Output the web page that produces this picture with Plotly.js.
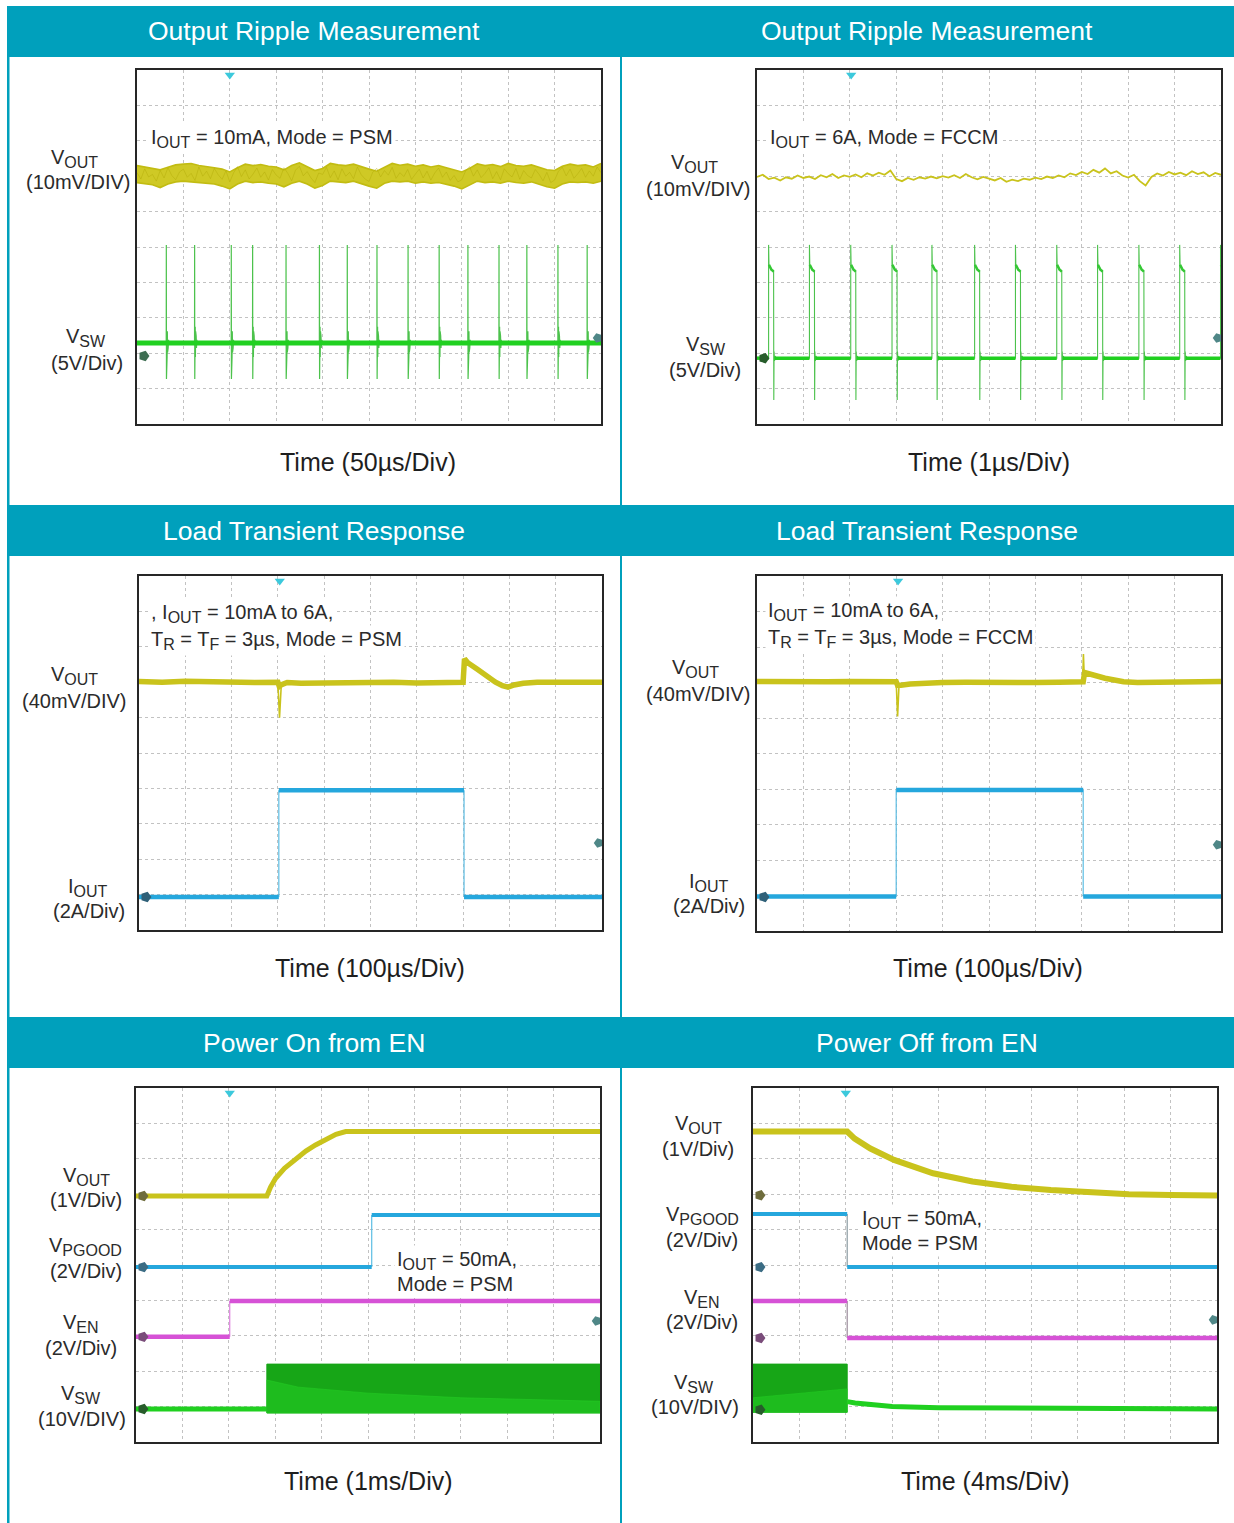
<!DOCTYPE html>
<html><head><meta charset="utf-8">
<script src="https://cdn.plot.ly/plotly-3.0.1.min.js"></script>
<style>html,body{margin:0;padding:0;background:#fff;}#chart{width:1234px;height:1523px;}</style>
</head><body><div id="chart"></div>
<script>
// ================= DATA (in scope divisions) =================
const panelTitles = ['Output Ripple Measurement','Output Ripple Measurement','Load Transient Response','Load Transient Response','Power On from EN','Power Off from EN'];
const timeLabels = ['Time (50µs/Div)','Time (1µs/Div)','Time (100µs/Div)','Time (100µs/Div)','Time (1ms/Div)','Time (4ms/Div)'];
const channelLabels = [
  ['V<sub>OUT</sub>','(10mV/DIV)','V<sub>SW</sub>','(5V/Div)'],
  ['V<sub>OUT</sub>','(10mV/DIV)','V<sub>SW</sub>','(5V/Div)'],
  ['V<sub>OUT</sub>','(40mV/DIV)','I<sub>OUT</sub>','(2A/Div)'],
  ['V<sub>OUT</sub>','(40mV/DIV)','I<sub>OUT</sub>','(2A/Div)'],
  ['V<sub>OUT</sub>','(1V/Div)','V<sub>PGOOD</sub>','(2V/Div)','V<sub>EN</sub>','(2V/Div)','V<sub>SW</sub>','(10V/DIV)'],
  ['V<sub>OUT</sub>','(1V/Div)','V<sub>PGOOD</sub>','(2V/Div)','V<sub>EN</sub>','(2V/Div)','V<sub>SW</sub>','(10V/DIV)']
];
const noteLines = [
  ['I<sub>OUT</sub> = 10mA, Mode = PSM'],
  ['I<sub>OUT</sub> = 6A, Mode = FCCM'],
  [', I<sub>OUT</sub> = 10mA to 6A,','T<sub>R</sub> = T<sub>F</sub> = 3µs, Mode = PSM'],
  ['I<sub>OUT</sub> = 10mA to 6A,','T<sub>R</sub> = T<sub>F</sub> = 3µs, Mode = FCCM'],
  ['I<sub>OUT</sub> = 50mA,','Mode = PSM'],
  ['I<sub>OUT</sub> = 50mA,','Mode = PSM']
];

// Panel 1 : VOUT ripple band edges (sampled every 1/6 div) and VSW spikes
const p1VoutUpper = [7.30,7.26,7.22,7.18,7.25,7.32, 7.34,7.36,7.30,7.28,7.24,7.20, 7.12,7.24,7.34,7.30,7.33,7.28,
  7.26,7.18,7.30,7.38,7.28,7.16, 7.22,7.36,7.32,7.30,7.34,7.26, 7.20,7.14,7.26,7.36,7.31,7.34,
  7.28,7.32,7.26,7.30,7.24,7.18, 7.12,7.22,7.35,7.30,7.33,7.27, 7.36,7.30,7.28,7.32,7.24,7.18,
  7.16,7.28,7.34,7.30,7.32,7.26, 7.36];
const p1VoutLower = [6.82,6.80,6.76,6.68,6.78,6.84, 6.86,6.84,6.82,6.80,6.78,6.72, 6.64,6.78,6.86,6.82,6.84,6.80,
  6.78,6.70,6.80,6.86,6.78,6.66, 6.74,6.86,6.84,6.82,6.86,6.78, 6.72,6.66,6.80,6.86,6.84,6.86,
  6.80,6.84,6.80,6.82,6.78,6.72, 6.64,6.76,6.86,6.82,6.84,6.80, 6.86,6.82,6.80,6.84,6.76,6.70,
  6.66,6.78,6.84,6.82,6.84,6.80, 6.86];
// noise texture inside the band (sampled every 1/12 div)
const p1VoutNoise = [7.10,6.92,7.21,6.98,7.05,6.86,7.16,6.95,7.24,7.02,6.90,7.12,
  7.20,6.97,7.08,6.88,7.26,7.00,7.14,6.93,7.22,7.04,6.91,7.15,
  6.84,7.10,7.27,6.99,7.18,6.92,7.06,7.23,6.97,7.12,6.89,7.19,
  7.03,6.94,7.24,7.08,6.87,7.17,7.28,7.01,7.13,6.95,6.82,7.09,
  7.05,7.25,6.96,7.15,6.90,7.21,7.00,7.11,6.93,7.26,7.04,6.92,
  6.85,7.12,7.22,6.98,7.16,7.03,7.25,6.94,7.10,6.99,7.19,6.91,
  7.06,7.20,6.95,7.14,6.89,7.09,7.23,6.97,7.12,6.88,7.02,6.84,
  6.90,7.15,7.27,7.00,7.18,6.96,7.08,7.24,6.93,7.13,6.90,7.21,
  7.07,6.98,7.22,6.91,7.16,7.02,6.95,7.19,7.05,6.87,7.11,6.82,
  6.89,7.14,7.25,7.01,7.20,6.94,7.07,7.22,6.97,7.15,7.00,7.26, 7.10];
const p1SwBase = 2.29;
const p1SpikeTimes = [0.63,1.24,2.03,2.49,3.21,3.93,4.53,5.17,5.84,6.51,7.13,7.80,8.40,9.07,9.70];
const p1SpikeDx = [0,0.002,0.005,0.008,0.011,0.015,0.019,0.024,0.029,0.035,0.042,0.050,0.060,0.072];
const p1SpikeDy = [0,2.77,-1.02,0.60,-0.54,0.46,-0.40,0.33,-0.27,0.20,-0.14,0.09,-0.05,0];

// Panel 2 : VOUT (sampled every 1/8 div) and VSW pulses
const p2Vout = [6.98,7.04,6.92,6.96,6.88,6.97,6.93,7.02,6.95,
  6.99,6.92,7.03,6.97,7.06,6.95,7.02,6.98,
  7.05,6.97,7.08,7.02,7.10,7.04,7.16,6.92,
  6.86,6.95,6.90,6.97,6.93,6.99,6.94,7.00,
  6.96,7.03,6.95,7.06,6.97,6.91,6.98,6.93,
  6.88,6.95,6.84,6.90,6.86,6.93,6.90,6.96,
  6.92,6.99,6.95,7.02,6.97,7.08,7.03,7.12,
  7.06,7.18,7.10,7.22,7.08,7.14,7.02,6.96,
  7.04,6.86,6.74,6.98,7.08,7.02,7.12,7.05,
  7.10,7.03,7.14,7.06,7.11,7.00,7.09,7.04];
const p2SwLow = 1.86;
const p2PulseTimes = [0.25,1.13,2.02,2.91,3.77,4.69,5.57,6.46,7.34,8.23,9.11,9.99];
const p2PulseDx = [0,0,0.008,0.030,0.060,0.090,0.108,0.112,0.118,0.128,0.142,0.160];
const p2PulseY  = [1.86,5.06,4.50,4.42,4.36,4.33,4.30,0.68,2.05,1.78,1.92,1.86];

// Panel 3 : load transient PSM
const p3VoutX = [0,0.5,1,1.5,2,2.5,3.0,3.03,3.08,3.2,3.5,4,4.5,5,5.5,6,6.5,7.0,7.03,7.1,7.3,7.5,7.7,7.85,7.97,8.1,8.3,8.6,9,9.5,10];
const p3VoutY = [7.02,7.00,7.03,7.01,7.02,6.99,7.00,6.88,6.93,6.99,6.97,6.98,6.97,6.99,7.00,6.98,7.00,7.00,7.66,7.55,7.37,7.18,7.00,6.90,6.86,6.92,6.97,7.00,6.99,7.01,7.00];
const p3DipX = [3.0,3.035,3.07];
const p3DipY = [7.0,6.0,6.85];
const p3IoutEdges = [3.02,7.02];
const p3IoutLevels = [0.93,3.95,0.93];

// Panel 4 : load transient FCCM
const p4VoutX = [0,0.5,1,1.5,2,2.5,3.0,3.03,3.1,3.3,3.6,4,4.5,5,5.5,6,6.5,7.03,7.06,7.15,7.3,7.5,7.7,7.9,8.2,8.6,9,9.5,10];
const p4VoutY = [7.03,7.02,7.04,7.02,7.03,7.01,7.02,6.92,6.92,6.96,6.99,7.00,7.01,7.00,7.01,7.00,7.01,7.02,7.28,7.24,7.18,7.12,7.07,7.02,7.00,7.01,7.02,7.01,7.03];
const p4DipX = [3.0,3.03,3.06];
const p4DipY = [7.02,6.04,6.9];
const p4PeakX = [7.02,7.035,7.05];
const p4PeakY = [7.02,7.8,7.25];
const p4IoutEdges = [3.0,7.03];
const p4IoutLevels = [0.97,3.97,0.97];

// Panel 5 : power on
const p5VoutX = [0,2.82,2.9,3.01,3.2,3.44,3.66,3.87,4.1,4.31,4.52,5,6,7,8,9,10];
const p5VoutY = [6.95,6.95,7.2,7.45,7.73,8.01,8.22,8.39,8.56,8.69,8.77,8.77,8.76,8.77,8.76,8.77,8.77];
const p5PgoodEdges = [5.08];
const p5PgoodLevels = [4.94,6.41];
const p5EnEdges = [2.02];
const p5EnLevels = [2.97,3.98];
const p5SwLowX = [0,2.82];
const p5SwLow = 0.93;
const p5SwBurstX = [2.82,10];
const p5SwBurstTop = [2.2,2.2];
const p5SwBurstBottom = [0.82,0.82];
const p5SwBrightX = [2.82,3.5,5,7,10];
const p5SwBrightTop = [1.75,1.55,1.38,1.25,1.15];

// Panel 6 : power off
const p6VoutX = [0,2.03,2.19,2.53,3.04,3.88,4.73,5.57,6.42,7.26,8.1,9,10];
const p6VoutY = [8.77,8.77,8.57,8.29,7.97,7.59,7.36,7.21,7.12,7.05,7.00,6.98,6.96];
const p6PgoodEdges = [2.03];
const p6PgoodLevels = [6.44,4.94];
const p6EnEdges = [2.03];
const p6EnLevels = [3.98,2.94];
const p6SwBurstX = [0,2.03];
const p6SwBurstTop = [2.2,2.2];
const p6SwBurstBottom = [0.84,0.84];
const p6SwBrightX = [0,0.8,1.5,2.03];
const p6SwBrightTop = [1.25,1.35,1.45,1.5];
const p6SwTailX = [2.03,2.2,2.6,3.0,4.0,6.0,8.0,10];
const p6SwTailY = [1.14,1.10,1.05,1.00,0.97,0.95,0.94,0.93];

// scope markers
const triggerX = [2.0,2.03,3.04,3.04,2.02,2.0];
const rightMarkerY = [2.43,2.43,2.46,2.43,3.42,3.45];
const groundMarkerY = [[1.92],[1.86],[0.93],[0.96],[6.95,4.94,2.97,0.93],[6.97,4.94,2.94,0.91]];

// ================= STYLE / LAYOUT =================
const W = 1234, H = 1523;
const px = x => x / W, py = y => 1 - y / H;
const C = {vout:'#c9c31c', voutEdge:'#c2bc12', sw:'#20d020', swThin:'#4cc24c', blue:'#25a7dd', blueThin:'#5cbde3',
  mag:'#d652d6', magThin:'#dd7fdd', teal:'#00a0bc', text:'#2b2b2b'};
const boxes = [
  {l:137,r:601,t:70,b:424},{l:757,r:1221,t:70,b:424},
  {l:139,r:602,t:576,b:930},{l:757,r:1221,t:576,b:931},
  {l:136,r:600,t:1088,b:1442},{l:753,r:1217,t:1088,b:1442}];
const groundMarkerColors = [['#3e6e52'],['#275c2b'],['#2f6078'],['#2f6078'],
  ['#6e6c3c','#3b6c84','#7a4c7a','#275c2b'],['#6e6c3c','#3b6c84','#7a4c7a','#275c2b']];

const traces = [];
function add(n, x, y, opts){
  traces.push(Object.assign({type:'scatter', mode:'lines', x, y,
    xaxis:'x'+(n>1?n:''), yaxis:'y'+(n>1?n:''), hoverinfo:'skip', showlegend:false}, opts));
}
function steps(n, edges, levels, color, thick, thinColor){
  const X=[],Y=[],EX=[],EY=[]; const b=[0,...edges,10];
  levels.forEach((lv,i)=>{X.push(b[i],b[i+1],null); Y.push(lv,lv,null);});
  edges.forEach((e,i)=>{EX.push(e,e,null); EY.push(levels[i],levels[i+1],null);});
  add(n,EX,EY,{line:{color:thinColor,width:1.2}});
  add(n,X,Y,{line:{color:color,width:thick}});
}
function band(n, x, top, xb, bottom, fill){
  const X=[...x, ...xb.slice().reverse(), x[0]], Y=[...top, ...bottom.slice().reverse(), top[0]];
  add(n,X,Y,{fill:'toself', fillcolor:fill, line:{color:fill,width:1}});
}

// ---- Panel 1
const p1X = p1VoutUpper.map((_,i)=>i/6);
add(1,p1X,p1VoutUpper,{line:{color:C.voutEdge,width:1.6}});
add(1,p1X,p1VoutLower,{fill:'tonexty', fillcolor:'#cfc925', line:{color:C.voutEdge,width:1.6}});
add(1,p1VoutNoise.map((_,i)=>i/12),p1VoutNoise,{line:{color:'rgba(178,170,8,0.55)',width:0.8}});
(function(){
  const X=[0],Y=[p1SwBase];
  p1SpikeTimes.forEach(t=>p1SpikeDx.forEach((dx,k)=>{X.push(t+dx);Y.push(p1SwBase+p1SpikeDy[k]);}));
  X.push(10);Y.push(p1SwBase);
  add(1,X,Y,{line:{color:C.swThin,width:1.2}});
  add(1,[0,10],[p1SwBase,p1SwBase],{line:{color:C.sw,width:5}});
})();

// ---- Panel 2
add(2,p2Vout.map((_,i)=>i/8),p2Vout,{line:{color:C.vout,width:1.8}});
(function(){
  const X=[0],Y=[p2SwLow],LX=[0],LY=[p2SwLow],HX=[],HY=[];
  p2PulseTimes.forEach((t,i)=>{
    p2PulseDx.forEach((dx,k)=>{X.push(t+dx);Y.push(p2PulseY[k]);});
    LX.push(t,null); LY.push(p2SwLow,null);
    LX.push(t+0.13); LY.push(p2SwLow);
    for(let k=2;k<=6;k++){HX.push(t+p2PulseDx[k]);HY.push(p2PulseY[k]);} HX.push(null);HY.push(null);
  });
  X.push(10);Y.push(p2SwLow); LX.push(10);LY.push(p2SwLow);
  add(2,X,Y,{line:{color:C.swThin,width:1.1}});
  add(2,LX,LY,{line:{color:C.sw,width:3.5}});
  add(2,HX,HY,{line:{color:'#34c834',width:2.5}});
})();

// ---- Panel 3
add(3,p3DipX,p3DipY,{line:{color:C.vout,width:1.6}});
add(3,p3VoutX,p3VoutY,{line:{color:C.vout,width:5.5}});
steps(3,p3IoutEdges,p3IoutLevels,C.blue,4.5,C.blueThin);

// ---- Panel 4
add(4,p4DipX,p4DipY,{line:{color:C.vout,width:1.6}});
add(4,p4PeakX,p4PeakY,{line:{color:C.vout,width:1.6}});
add(4,p4VoutX,p4VoutY,{line:{color:C.vout,width:5.5}});
steps(4,p4IoutEdges,p4IoutLevels,C.blue,4.5,C.blueThin);

// ---- Panel 5
add(5,p5VoutX,p5VoutY,{line:{color:C.vout,width:5}});
steps(5,p5PgoodEdges,p5PgoodLevels,C.blue,4,C.blueThin);
steps(5,p5EnEdges,p5EnLevels,C.mag,4.5,C.magThin);
add(5,p5SwLowX,[p5SwLow,p5SwLow],{line:{color:C.sw,width:5}});
band(5,p5SwBurstX,p5SwBurstTop,p5SwBurstX,p5SwBurstBottom,'#17a617');
band(5,p5SwBrightX,p5SwBrightTop,p5SwBurstX,p5SwBurstBottom,'rgba(36,206,36,0.55)');

// ---- Panel 6
add(6,p6VoutX,p6VoutY,{line:{color:C.vout,width:6}});
steps(6,p6PgoodEdges,p6PgoodLevels,C.blue,4,'#8a9aa0');
steps(6,p6EnEdges,p6EnLevels,C.mag,4.5,'#9a8a9a');
band(6,p6SwBurstX,p6SwBurstTop,p6SwBurstX,p6SwBurstBottom,'#17a617');
band(6,p6SwBrightX,p6SwBrightTop,p6SwBurstX,p6SwBurstBottom,'rgba(36,206,36,0.55)');
add(6,p6SwTailX,p6SwTailY,{line:{color:C.sw,width:5}});

// ---- scope markers
for(let i=0;i<6;i++){
  const n=i+1;
  add(n,[triggerX[i]],[9.86],{mode:'markers',cliponaxis:false,marker:{symbol:'triangle-down',size:9,color:'#3cc9dc'}});
  add(n,[9.93],[rightMarkerY[i]],{mode:'markers',cliponaxis:false,marker:{symbol:'pentagon',angle:-90,size:10,color:'#4f8787'}});
  add(n,groundMarkerY[i].map(()=>0.15),groundMarkerY[i],{mode:'markers',cliponaxis:false,
    marker:{symbol:'pentagon',angle:90,size:11,color:groundMarkerColors[i]}});
}

// ---- axes
const layout = {width:W,height:H,margin:{l:0,r:0,t:0,b:0},paper_bgcolor:'#fff',plot_bgcolor:'#fff',
  showlegend:false,font:{family:'Liberation Sans, Arial, sans-serif',color:C.text,size:20},shapes:[],annotations:[]};
boxes.forEach((b,i)=>{
  const n=i+1, s=n>1?n:'';
  const common={range:[0,10],dtick:1,tick0:0,showticklabels:false,ticks:'',showgrid:true,gridcolor:'#c2c2c2',
    griddash:'dot',gridwidth:1,zeroline:false,showline:true,mirror:true,linecolor:'#262626',linewidth:1.6,fixedrange:true};
  layout['xaxis'+s]=Object.assign({},common,{domain:[px(b.l),px(b.r)],anchor:'y'+s});
  layout['yaxis'+s]=Object.assign({},common,{domain:[py(b.b),py(b.t)],anchor:'x'+s});
});

// ---- frame: header bars and teal borders
const headerRows=[[6,57],[505,556],[1017,1068]];
headerRows.forEach(r=>layout.shapes.push({type:'rect',xref:'paper',yref:'paper',x0:px(7),x1:1,y0:py(r[1]),y1:py(r[0]),
  fillcolor:C.teal,line:{width:0},layer:'below'}));
layout.shapes.push({type:'rect',xref:'paper',yref:'paper',x0:px(7),x1:px(9.5),y0:0,y1:py(6),fillcolor:C.teal,line:{width:0},layer:'below'});
layout.shapes.push({type:'rect',xref:'paper',yref:'paper',x0:px(620),x1:px(622),y0:0,y1:py(6),fillcolor:C.teal,line:{width:0},layer:'below'});

// ---- text positions (px)
const titlePos=[[314,31.5],[927,31.5],[314,530.5],[927,530.5],[314,1042.5],[927,1042.5]];
const timePos=[[368,462],[989,462],[370,968],[988,968],[368,1481],[985,1481]];
const labelPos=[
  [[74,158],[78,182],[86,338],[87,363]],
  [[694,164],[698,189],[706,345],[705,370]],
  [[74,676],[74,701],[88,887],[89,911]],
  [[695,669],[698,694],[709,882],[709,906]],
  [[86,1176],[86,1200],[85,1246],[86,1271],[81,1323],[81,1348],[81,1394],[82,1419]],
  [[698,1124],[698,1149],[702,1215],[702,1240],[702,1298],[702,1322],[694,1383],[695,1407]]];
const notePos=[[[148,138]],[[767,138]],[[148,613],[148,640]],[[765,611],[765,638]],[[394,1260],[394,1284]],[[859,1219],[859,1243]]];
const subSize = 16;
const withSub = t => t.replace(/<sub>/g,'<sub><span style="font-size:'+subSize+'px">').replace(/<\/sub>/g,'</span></sub>');

panelTitles.forEach((t,i)=>layout.annotations.push({text:t,xref:'paper',yref:'paper',x:px(titlePos[i][0]),y:py(titlePos[i][1]),
  xanchor:'center',yanchor:'middle',showarrow:false,font:{size:26.5,color:'#ffffff'}}));
timeLabels.forEach((t,i)=>layout.annotations.push({text:t,xref:'paper',yref:'paper',x:px(timePos[i][0]),y:py(timePos[i][1]),
  xanchor:'center',yanchor:'middle',showarrow:false,font:{size:25,color:'#1e1e1e'}}));
channelLabels.forEach((arr,i)=>arr.forEach((t,k)=>layout.annotations.push({text:withSub(t),xref:'paper',yref:'paper',
  x:px(labelPos[i][k][0]),y:py(labelPos[i][k][1]),xanchor:'center',yanchor:'middle',showarrow:false,font:{size:20,color:C.text}})));
noteLines.forEach((arr,i)=>arr.forEach((t,k)=>layout.annotations.push({text:withSub(t),xref:'paper',yref:'paper',
  x:px(notePos[i][k][0]),y:py(notePos[i][k][1]),xanchor:'left',yanchor:'middle',showarrow:false,bgcolor:'#ffffff',borderpad:2,
  font:{size:20,color:C.text}})));

Plotly.newPlot('chart',traces,layout,{staticPlot:true,displayModeBar:false});
</script></body></html>
